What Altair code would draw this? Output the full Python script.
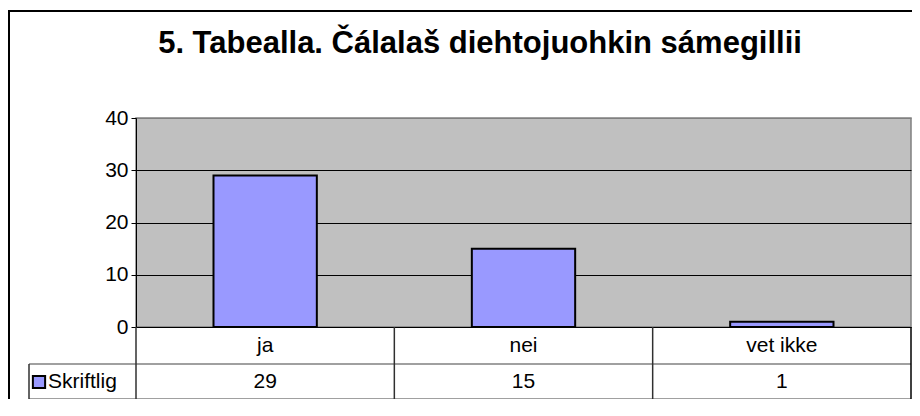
import altair as alt
import pandas as pd

# ---- data ----
categories = ["ja", "nei", "vet ikke"]
values = [29, 15, 1]
series_name = "Skriftlig"
y_ticks = [0, 10, 20, 30, 40]
title_text = "5. Tabealla. Čálalaš diehtojuohkin sámegillii"

FONT = "Liberation Sans"
BAR = "#9999ff"
W, H = 775, 209
FS = 21

df = pd.DataFrame({"cat": categories, "val": values})
one = pd.DataFrame({"series": [series_name], "title": [title_text]})

x_enc = alt.X("cat:N", sort=categories,
              scale=alt.Scale(paddingInner=0.6, paddingOuter=0.3), axis=None)
y_enc = alt.Y("val:Q", scale=alt.Scale(domain=[0, 40], nice=False),
              axis=alt.Axis(values=y_ticks, title=None, grid=True,
                            gridColor={"condition": {"test": "datum.value === 40", "value": "#808080"}, "value": "black"},
                            gridWidth=1, domainColor="black", domainWidth=1,
                            tickColor="black", tickSize=5, labelFont=FONT,
                            labelFontSize=FS, labelColor="black", labelPadding=3))

bars = alt.Chart(df).mark_bar(color=BAR, stroke="black", strokeWidth=2).encode(x=x_enc, y=y_enc)

# outer chart frame
frame = alt.Chart(one).mark_rect(fillOpacity=0, stroke="black", strokeWidth=2).encode(
    x=alt.value(-127), x2=alt.value(820), y=alt.value(-107), y2=alt.value(320))

title = alt.Chart(one).mark_text(font=FONT, fontSize=31, fontWeight="bold", baseline="alphabetic",
                                 align="center", color="black").encode(
    x=alt.value(344), y=alt.value(-65), text="title:N")

# data table lines
def hrule(y, x0, x1, color="#808080"):
    return alt.Chart(one).mark_rule(color=color, strokeWidth=1.5).encode(
        x=alt.value(x0), x2=alt.value(x1), y=alt.value(y))

def vrule(x, y0, y1, color="#303030"):
    return alt.Chart(one).mark_rule(color=color, strokeWidth=1.5).encode(
        x=alt.value(x), y=alt.value(y0), y2=alt.value(y1))

step = W / 3
table_lines = [
    hrule(246, -107, W),
    hrule(281, -107, W),
    vrule(-107, 246, 281),
    vrule(0, H, 281),
    vrule(step, H, 281),
    vrule(2 * step, H, 281),
    vrule(W, H, 281, "black"),
]

cat_labels = alt.Chart(df).mark_text(font=FONT, fontSize=FS, color="black", baseline="middle").encode(
    x=x_enc, y=alt.value(228), text="cat:N")
val_labels = alt.Chart(df).mark_text(font=FONT, fontSize=FS, color="black", baseline="middle").encode(
    x=x_enc, y=alt.value(264), text="val:Q")

legend_sym = alt.Chart(one).mark_point(shape="square", filled=True, fill=BAR, stroke="black",
                                       strokeWidth=2, size=150, opacity=1).encode(
    x=alt.value(-97), y=alt.value(264))
legend_txt = alt.Chart(one).mark_text(font=FONT, fontSize=FS, color="black", align="left",
                                      baseline="middle").encode(
    x=alt.value(-88), y=alt.value(264), text="series:N")

chart = alt.layer(frame, bars, title, *table_lines, cat_labels, val_labels, legend_sym, legend_txt).properties(
    width=W, height=H,
    autosize=alt.AutoSizeParams(type="none"),
    padding={"left": 128, "top": 110, "right": 1, "bottom": 72},
    background="white",
).configure_view(fill="#c0c0c0", stroke="#808080", strokeWidth=1.5)

chart.save("out.html", embed_options={"renderer": "svg", "actions": False})
